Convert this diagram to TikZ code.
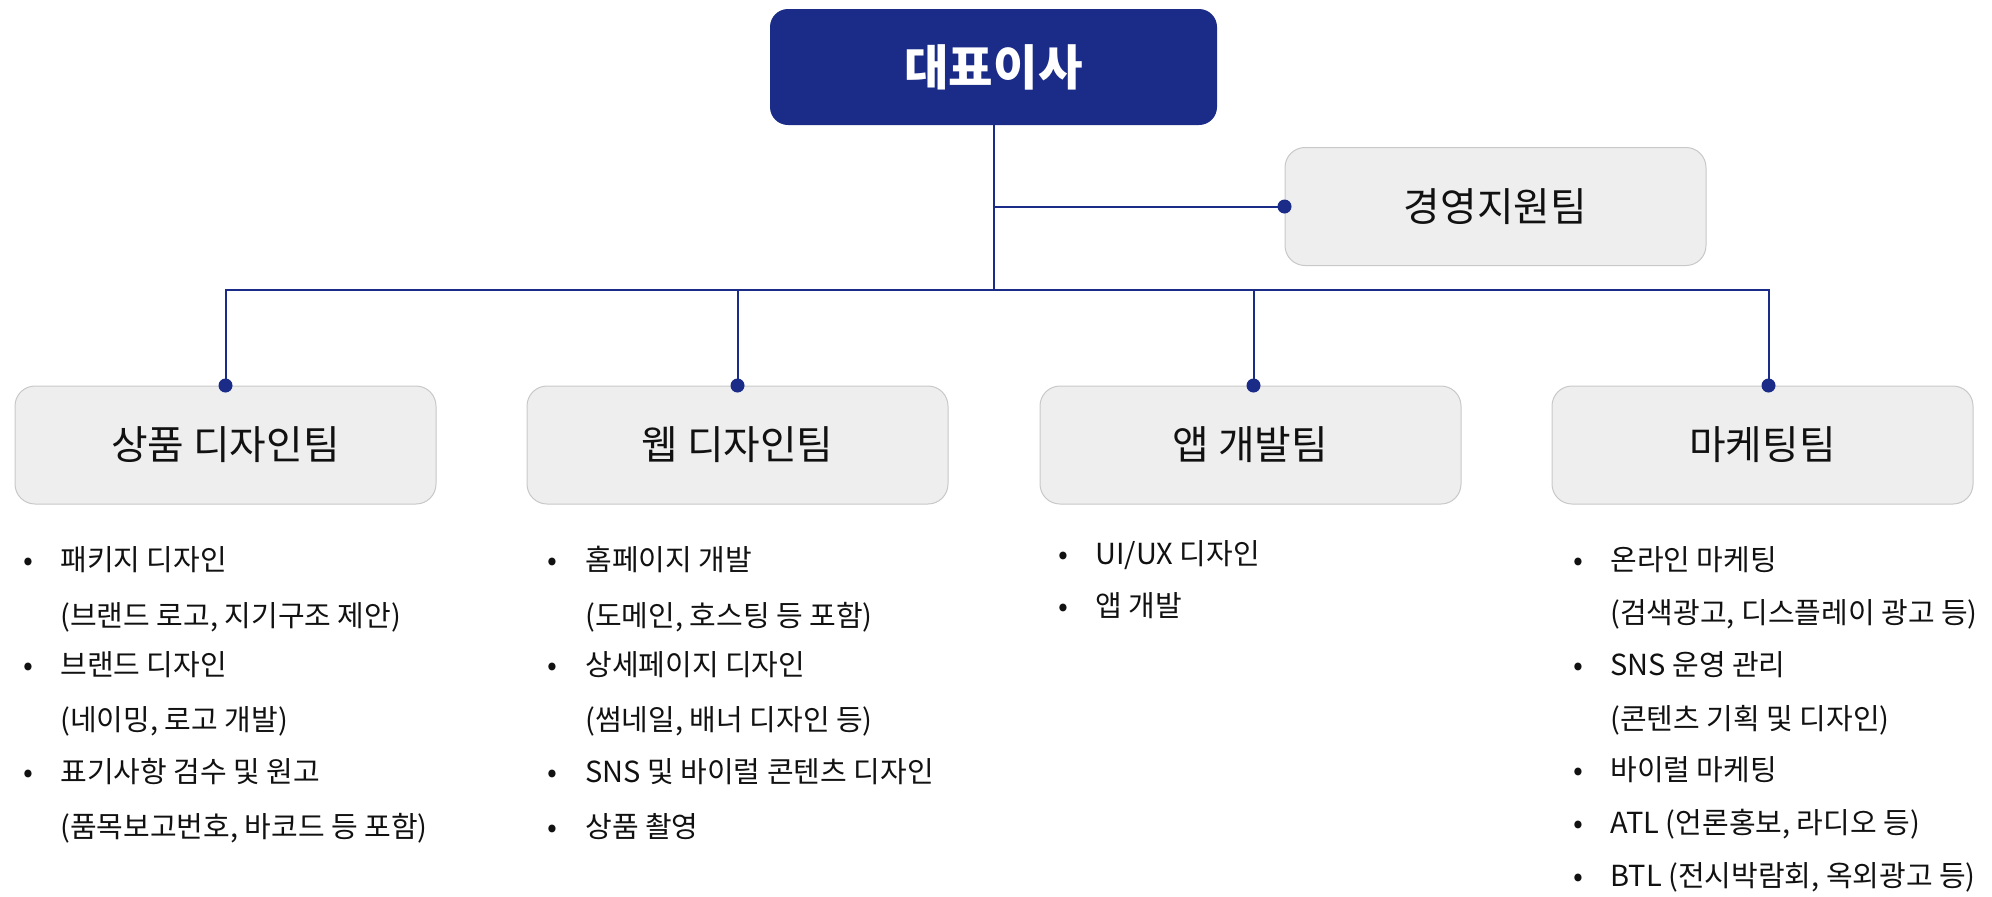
\documentclass[tikz,border=0pt]{standalone}
\usepackage{fontspec}
\setmainfont{Noto Sans CJK KR}
\usepackage{tikz}
\usetikzlibrary{positioning}
\definecolor{navy}{HTML}{1A2B88}
\definecolor{boxgray}{HTML}{EEEEEE}
\definecolor{boxline}{HTML}{C8C8C8}
\definecolor{ink}{HTML}{111111}

\begin{document}
\begin{tikzpicture}[x=0.5pt, y=-0.5pt,
    ceobox/.style={rectangle, rounded corners=9pt, fill=navy, text=white, minimum width=223.5pt, minimum height=58pt, font=\fontsize{24.2}{29}\selectfont\bfseries},
    teambox/.style={rectangle, rounded corners=10pt, fill=boxgray, draw=boxline, line width=0.5pt, minimum width=210.5pt, minimum height=59pt, text=ink, font=\fontsize{19.9}{24}\selectfont},
    link/.style={draw=navy, line width=1pt},
    bul/.style={anchor=base, inner sep=0pt, text=ink, font=\fontsize{14.5}{17}\selectfont},
    itemtext/.style={anchor=base west, inner sep=0pt, text=ink, font=\fontsize{14.5}{17}\selectfont}]
  \useasboundingbox (0,0) rectangle (1992,896);

  \node[ceobox] (ceo) at (993.5, 67) {대표이사};
  \node[teambox] (mgmt) at (1495.5, 206.5) {경영지원팀};
  \node[teambox] (prod) at (225.5, 445) {상품 디자인팀};
  \node[teambox] (web) at (737.5, 445) {웹 디자인팀};
  \node[teambox] (app) at (1250.5, 445) {앱 개발팀};
  \node[teambox] (mkt) at (1762.5, 445) {마케팅팀};

  \coordinate (bus) at (993.5, 290);
  \coordinate (appin) at ([xshift=1.5pt]app.north);
  \coordinate (mktin) at ([xshift=3pt]mkt.north);

  \draw[link] (ceo.south) -- (bus);
  \draw[link] (ceo.south |- mgmt.west) -- (mgmt.west);
  \draw[link] (prod.north) |- (mktin |- bus) -- (mktin);
  \draw[link] (web.north) -- (web.north |- bus);
  \draw[link] (appin) -- (appin |- bus);

  \fill[navy] (mgmt.west) circle (3.5pt);
  \fill[navy] (prod.north) circle (3.5pt);
  \fill[navy] (web.north) circle (3.5pt);
  \fill[navy] (appin) circle (3.5pt);
  \fill[navy] (mktin) circle (3.5pt);

  \node[bul] (prodb1) at (28, 570) {•};
  \node[itemtext] (prod1) at (60, 570) {패키지 디자인};
  \node[itemtext] (prod2) at (60, 626) {(브랜드 로고, 지기구조 제안)};
  \node[bul] (prodb2) at (28, 675) {•};
  \node[itemtext] (prod3) at (60, 675) {브랜드 디자인};
  \node[itemtext] (prod4) at (60, 730) {(네이밍, 로고 개발)};
  \node[bul] (prodb3) at (28, 782) {•};
  \node[itemtext] (prod5) at (60, 782) {표기사항 검수 및 원고};
  \node[itemtext] (prod6) at (60, 837) {(품목보고번호, 바코드 등 포함)};

  \node[bul] (webb1) at (552, 570) {•};
  \node[itemtext] (web1) at (585, 570) {홈페이지 개발};
  \node[itemtext] (web2) at (585, 626) {(도메인, 호스팅 등 포함)};
  \node[bul] (webb2) at (552, 675) {•};
  \node[itemtext] (web3) at (585, 675) {상세페이지 디자인};
  \node[itemtext] (web4) at (585, 730) {(썸네일, 배너 디자인 등)};
  \node[bul] (webb3) at (552, 782) {•};
  \node[itemtext] (web5) at (585, 782) {SNS 및 바이럴 콘텐츠 디자인};
  \node[bul] (webb4) at (552, 837) {•};
  \node[itemtext] (web6) at (585, 837) {상품 촬영};

  \node[bul] (appb1) at (1063, 564) {•};
  \node[itemtext] (app1) at (1095, 564) {UI/UX 디자인};
  \node[bul] (appb2) at (1063, 616) {•};
  \node[itemtext] (app2) at (1095, 616) {앱 개발};

  \node[bul] (mktb1) at (1578, 570) {•};
  \node[itemtext] (mkt1) at (1610, 570) {온라인 마케팅};
  \node[itemtext] (mkt2) at (1610, 623) {(검색광고, 디스플레이 광고 등)};
  \node[bul] (mktb2) at (1578, 675) {•};
  \node[itemtext] (mkt3) at (1610, 675) {SNS 운영 관리};
  \node[itemtext] (mkt4) at (1610, 729) {(콘텐츠 기획 및 디자인)};
  \node[bul] (mktb3) at (1578, 780) {•};
  \node[itemtext] (mkt5) at (1610, 780) {바이럴 마케팅};
  \node[bul] (mktb4) at (1578, 833) {•};
  \node[itemtext] (mkt6) at (1610, 833) {ATL (언론홍보, 라디오 등)};
  \node[bul] (mktb5) at (1578, 886) {•};
  \node[itemtext] (mkt7) at (1610, 886) {BTL (전시박람회, 옥외광고 등)};
\end{tikzpicture}
\end{document}
